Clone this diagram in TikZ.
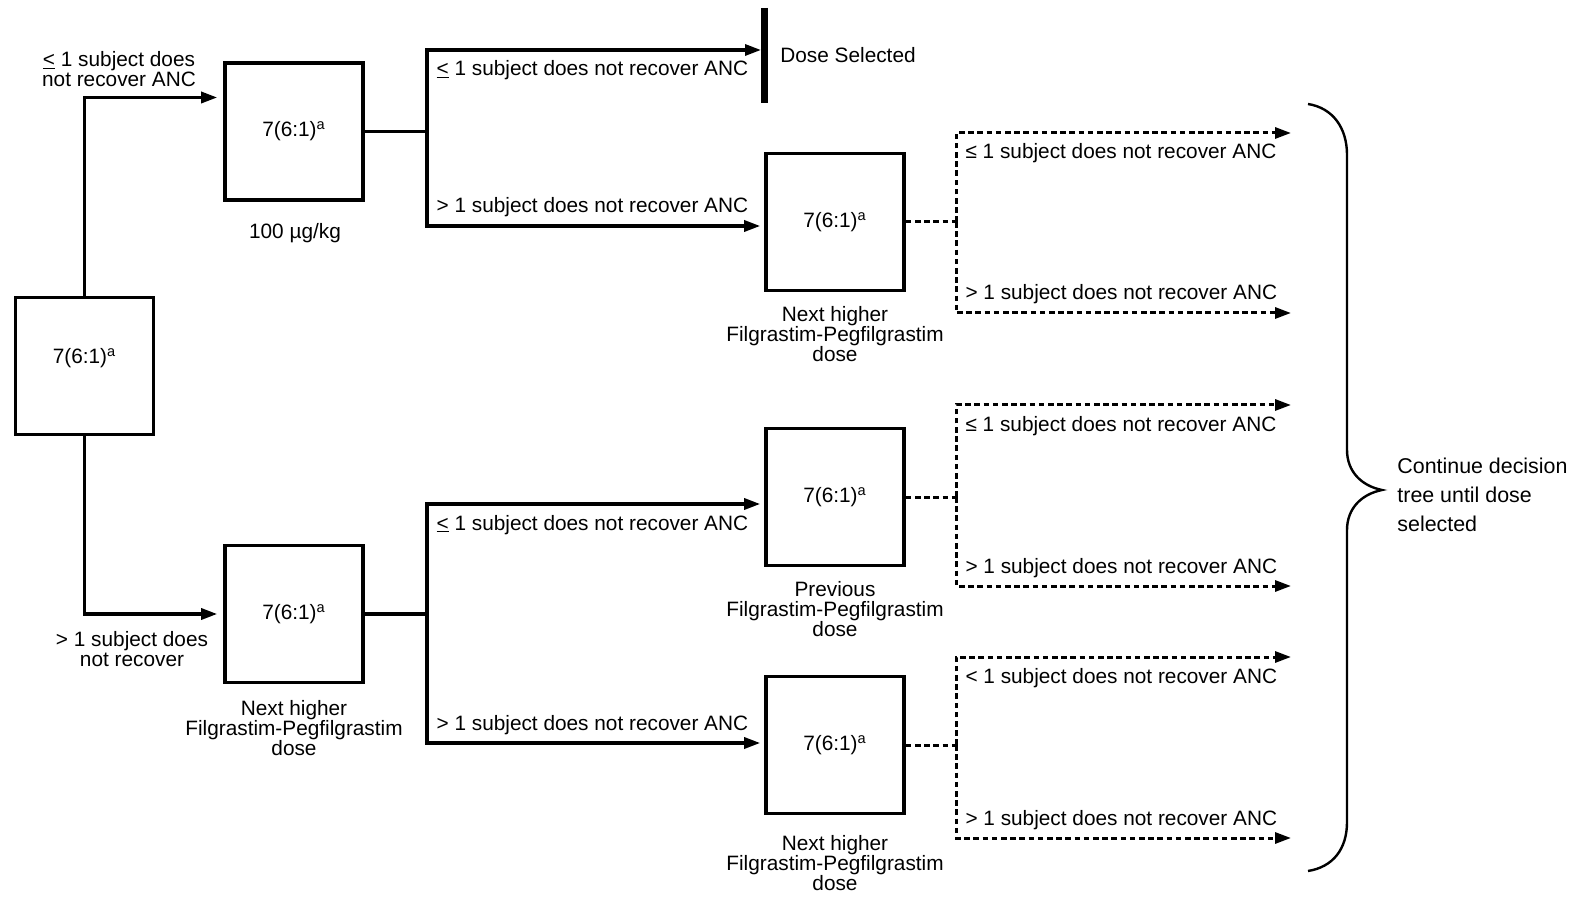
\documentclass[tikz,border=0pt]{standalone}
\usepackage{fontspec}
\setmainfont{Liberation Sans}
\usetikzlibrary{arrows.meta,positioning}
\newcommand{\leul}{\rlap{\rule[-1.2pt]{0.58em}{0.55pt}}<}

\begin{document}
\begin{tikzpicture}[x=0.5pt, y=-0.5pt,
    every node/.style={inner sep=0pt, font=\fontsize{10.4}{10}\selectfont},
    box/.style={draw, line width=1.8pt, minimum width=69pt, minimum height=68.5pt},
    conn/.style={line width=1.6pt, -{Triangle[length=8pt, width=5.5pt]}, shorten >=2pt},
    dconn/.style={conn, line width=1.5pt, dash pattern=on 2.8pt off 1.8pt},
    dline/.style={line width=1.5pt, dash pattern=on 2.8pt off 1.8pt},
    lbdown/.style={pos=0.5, anchor=base west, xshift=4pt, yshift=-13pt},
    lbup/.style={pos=0.5, anchor=base west, xshift=4pt, yshift=6.5pt}]
      \useasboundingbox (0,0) rectangle (1577,897);

      \node[box, text height=7.6pt, text depth=10.2pt] (root) at (84.5,366) {7(6:1)\textsuperscript{a}};
      \node[box] (dose1) at (294,131.5) {7(6:1)\textsuperscript{a}};
      \node[box] (dose2) at (294,614) {7(6:1)\textsuperscript{a}};
      \node[box] (next1) at (835,222) {7(6:1)\textsuperscript{a}};
      \node[box] (prev) at (835,497) {7(6:1)\textsuperscript{a}};
      \node[box] (next2) at (835,745) {7(6:1)\textsuperscript{a}};

      \node (d1lab) at (295,233) {100 µg/kg};
      \node[align=center] (d2lab) at (294,728) {Next higher\\Filgrastim-Pegfilgrastim\\dose};
      \node[align=center] (n1lab) at (835,334) {Next higher\\Filgrastim-Pegfilgrastim\\dose};
      \node[align=center] (plab) at (835,609) {Previous\\Filgrastim-Pegfilgrastim\\dose};
      \node[align=center] (n2lab) at (835,863) {Next higher\\Filgrastim-Pegfilgrastim\\dose};

      % first step
      \draw[conn, shorten >=3pt] (root.north) |- ([yshift=17pt]dose1.west);
      \draw[conn, shorten >=3pt] (root.south) |- (dose2.west);
      \node[align=center] (uplab) at (119,69) {\leul{} 1 subject does\\not recover ANC};
      \node[align=center] (downlab) at (132,649) {> 1 subject does\\not recover};

      % 100 ug/kg branch
      \coordinate (s1) at (427,131.5);
      \coordinate (stop) at (765,50);
      \draw[line width=1.6pt] (dose1.east) -- (s1);
      \draw[conn] (s1) |- node[lbdown] (l11) {\leul{} 1 subject does not recover ANC} (stop);
      \draw[conn] (s1) |- node[lbup] (l12) {> 1 subject does not recover ANC} ([yshift=-2pt]next1.west);
      \draw[line width=3.5pt] (764,8) -- (764,103);
      \node[anchor=base west] (sel) at (780,63) {Dose Selected};

      % next higher branch
      \coordinate (s2) at (427,614);
      \draw[line width=1.6pt] (dose2.east) -- (s2);
      \draw[conn] (s2) |- node[lbdown] (l21) {\leul{} 1 subject does not recover ANC} ([yshift=-3.5pt]prev.west);
      \draw[conn] (s2) |- node[lbup] (l22) {> 1 subject does not recover ANC} ([yshift=1pt]next2.west);

      % dashed continuations
      \coordinate (t1) at (956,222);
      \coordinate (e11) at (1295,133);
      \coordinate (e12) at (1295,313);
      \draw[dline] (next1.east) -- (t1);
      \draw[dconn] (t1) |- node[lbdown] (m11) {≤ 1 subject does not recover ANC} (e11);
      \draw[dconn] (t1) |- node[lbup] (m12) {> 1 subject does not recover ANC} (e12);

      \coordinate (t2) at (956,497);
      \coordinate (e21) at (1295,405);
      \coordinate (e22) at (1295,586);
      \draw[dline] (prev.east) -- (t2);
      \draw[dconn] (t2) |- node[lbdown] (m21) {≤ 1 subject does not recover ANC} (e21);
      \draw[dconn] (t2) |- node[lbup] (m22) {> 1 subject does not recover ANC} (e22);

      \coordinate (t3) at (956,745);
      \coordinate (e31) at (1295,657);
      \coordinate (e32) at (1295,838);
      \draw[dline] (next2.east) -- (t3);
      \draw[dconn] (t3) |- node[lbdown] (m31) {< 1 subject does not recover ANC} (e31);
      \draw[dconn] (t3) |- node[lbup] (m32) {> 1 subject does not recover ANC} (e32);

      % brace
      \draw[line width=1.2pt] (1308,104) .. controls (1333,108) and (1347,128) .. (1347,155)
        -- (1347,450) .. controls (1347,472) and (1362,486) .. (1382,490)
        .. controls (1362,494) and (1347,508) .. (1347,530)
        -- (1347,822) .. controls (1347,849) and (1333,867) .. (1308,871);
      \node[anchor=north west, align=left, font=\fontsize{10.7}{14.5}\selectfont] (cont) at (1397,458) {Continue decision\\tree until dose\\selected};
\end{tikzpicture}
\end{document}
